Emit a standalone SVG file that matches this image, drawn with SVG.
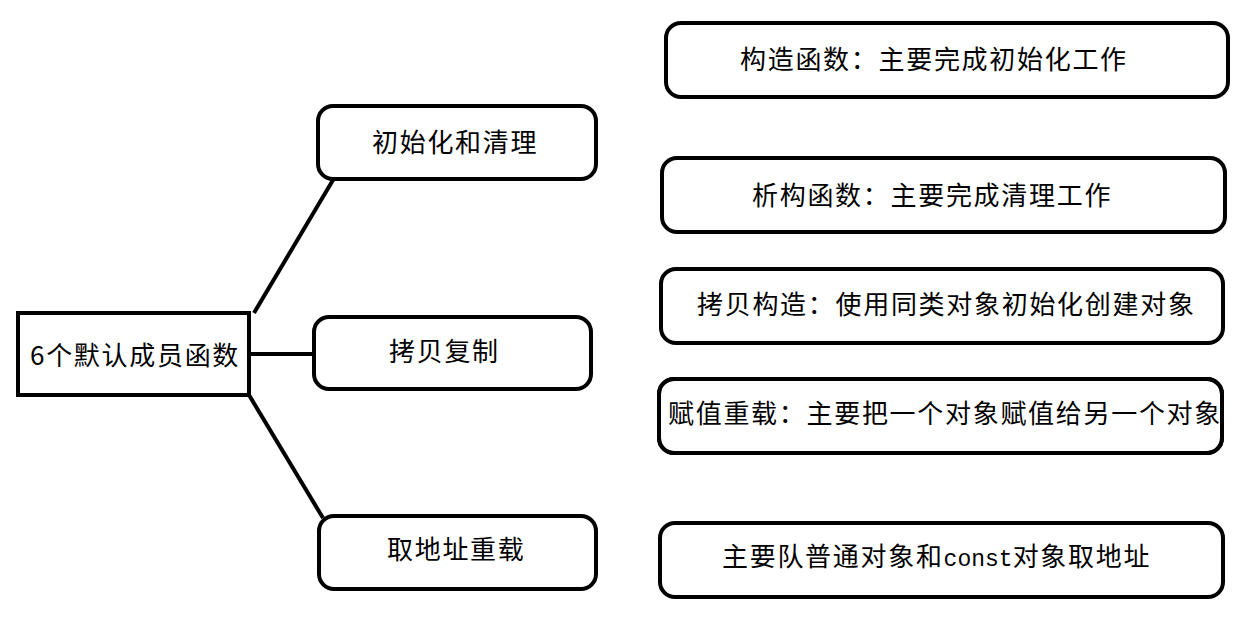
<svg xmlns="http://www.w3.org/2000/svg" width="1249" height="622" viewBox="0 0 1249 622">
<style>
.box{fill:#fff;stroke:#000;stroke-width:4}
.lbl{font-family:"Noto Sans CJK SC","Noto Sans",sans-serif;font-size:26px;letter-spacing:1.7px;fill:#000}
.mono{font-family:"Liberation Mono","Noto Sans CJK SC",monospace;font-size:23px;letter-spacing:0}
.conn{stroke:#000;stroke-width:4;fill:none}
</style>
<rect width="1249" height="622" fill="#fff"/>
<g id="connectors">
<line class="conn" x1="254" y1="313" x2="333" y2="180"/>
<line class="conn" x1="248" y1="354" x2="316" y2="354"/>
<line class="conn" x1="249" y1="395" x2="323" y2="518"/>
</g>
<g id="root">
<rect class="box" x="18" y="313" width="231" height="82"/>
<text class="lbl" x="30" y="365">6个默认成员函数</text>
</g>
<g id="init">
<rect class="box" x="318" y="106" width="278" height="73" rx="15"/>
<text class="lbl" x="372" y="152">初始化和清理</text>
</g>
<g id="copy">
<rect class="box" x="314" y="317" width="277" height="72" rx="15"/>
<text class="lbl" x="389" y="361">拷贝复制</text>
</g>
<g id="addr">
<rect class="box" x="319" y="516" width="277" height="73" rx="15"/>
<text class="lbl" x="387" y="559">取地址重载</text>
</g>
<g id="ctor">
<rect class="box" x="666" y="23" width="562" height="74" rx="15"/>
<text class="lbl" x="740" y="69">构造函数：主要完成初始化工作</text>
</g>
<g id="dtor">
<rect class="box" x="662" y="158" width="563" height="74" rx="15"/>
<text class="lbl" x="752" y="205">析构函数：主要完成清理工作</text>
</g>
<g id="copyctor">
<rect class="box" x="661" y="269" width="562" height="74" rx="15"/>
<text class="lbl" x="697" y="314">拷贝构造：使用同类对象初始化创建对象</text>
</g>
<g id="assign">
<rect class="box" x="659" y="379" width="563" height="74" rx="15"/>
<text class="lbl" x="668" y="423">赋值重载：主要把一个对象赋值给另一个对象</text>
<rect x="659" y="379" width="563" height="74" rx="15" fill="none" stroke="#000" stroke-width="4"/>
</g>
<g id="addrdesc">
<rect class="box" x="660" y="523" width="563" height="74" rx="15"/>
<text class="lbl" x="722" y="566">主要队普通对象和<tspan class="mono">const</tspan>对象取地址</text>
</g>
</svg>
